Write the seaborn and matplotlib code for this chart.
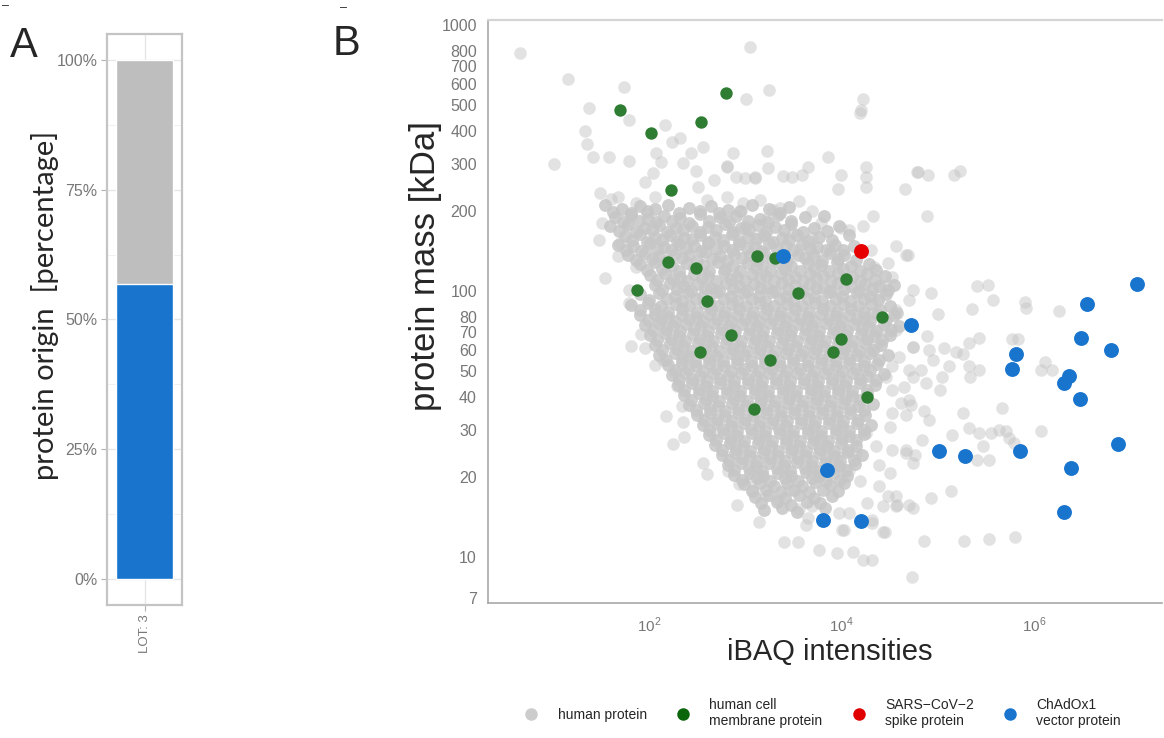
import numpy as np
import pandas as pd
import matplotlib
matplotlib.use("Agg")
import matplotlib.pyplot as plt
from matplotlib.lines import Line2D
from matplotlib.ticker import FixedLocator, LogLocator, NullFormatter
import seaborn as sns

# ---- panel A: protein origin share of LOT 3 ----
lots = ["LOT: 3"]
total_share = [1.0]
vector_share = [0.568]          # ChAdOx1 vector part, rest is human
pct_ticks = [0, 0.25, 0.5, 0.75, 1.0]
pct_labels = ["0%", "25%", "50%", "75%", "100%"]

# ---- panel B: (log10 iBAQ, mass kDa) ----
green_points = [
    (1.70, 479), (2.02, 393), (2.54, 431), (2.80, 555), (2.23, 240),
    (2.20, 128), (2.49, 122), (1.88, 101), (2.60, 92), (3.12, 135),
    (3.31, 133), (3.55, 98), (4.05, 111), (4.42, 80), (2.85, 68),
    (2.53, 59), (3.26, 55), (4.00, 66), (3.91, 59), (3.09, 36), (4.27, 40),
]
red_points = [(4.20, 141)]
blue_points = [
    (3.39, 135), (7.07, 106), (6.55, 89), (4.72, 74.5), (6.49, 66.4),
    (6.80, 60), (5.81, 57.8), (5.77, 50.9), (6.36, 47.9), (6.31, 45.2),
    (6.48, 39.3), (6.87, 26.6), (5.01, 25.0), (5.28, 24.0), (5.86, 25.1),
    (6.38, 21.6), (3.85, 21.2), (6.31, 14.7), (3.81, 13.7), (4.20, 13.6),
]

# scattered human proteins around the cloud
gray_outer = [
    (0.66, 787), (3.05, 828), (1.16, 627), (1.74, 586), (3.25, 570), (3.01, 528),
    (1.38, 489), (1.79, 440), (1.34, 401), (2.17, 420), (1.36, 357), (2.24, 364),
    (2.32, 375), (2.56, 347), (3.23, 337), (1.42, 318), (1.59, 318), (1.02, 300),
    (1.79, 308), (2.07, 329), (2.44, 329), (2.87, 329), (2.13, 306), (2.36, 302),
    (2.81, 295), (3.24, 289), (2.49, 283), (2.04, 277), (1.96, 257), (2.68, 261),
    (2.91, 269), (3.10, 265), (1.49, 234), (1.68, 226), (1.61, 221), (1.87, 215),
    (2.06, 226), (2.60, 220), (2.81, 226), (2.98, 214), (3.15, 220), (3.29, 202),
    (1.51, 180), (1.77, 177), (1.48, 156), (1.98, 196), (2.51, 247), (3.01, 175),
    (1.68, 135), (1.87, 123), (1.55, 112), (1.79, 101), (1.79, 90), (1.70, 151),
    (4.22, 527), (4.20, 479), (4.19, 467), (3.86, 320), (4.26, 292), (4.26, 269),
    (4.26, 245), (4.00, 273), (3.96, 241), (3.65, 293), (3.59, 273), (3.49, 269),
    (3.39, 271), (4.66, 242), (4.79, 281), (4.33, 192), (4.22, 176), (4.57, 147),
    (4.69, 137), (4.48, 127), (4.74, 101), (4.31, 143), (3.56, 217), (3.70, 199),
    (3.79, 180), (4.00, 172), (3.69, 158), (3.88, 143), (3.36, 205), (3.22, 185),
    (3.00, 265), (2.81, 293), (3.10, 269), (2.96, 199), (3.00, 172), (3.15, 160),
    (3.50, 165), (3.56, 143), (3.70, 139), (4.08, 169), (4.34, 123), (4.53, 113),
    (4.45, 104), (4.70, 92.5), (4.57, 85), (4.39, 95),
    (4.80, 279), (4.90, 273), (5.17, 273), (5.23, 283), (4.89, 191),
    (4.67, 136), (5.41, 104), (5.52, 105), (5.57, 92.5), (5.36, 85.5), (4.93, 98),
    (5.00, 81.7), (4.58, 82.8), (5.91, 91), (5.92, 86), (6.26, 84), (4.89, 67.8),
    (5.43, 66.4), (5.33, 63.5), (5.77, 66), (5.83, 66), (4.74, 61.7), (4.91, 60),
    (5.07, 61), (5.19, 59), (5.26, 58), (4.95, 55), (5.12, 52), (5.33, 52),
    (5.34, 47.6), (5.43, 50.5), (6.12, 54.2), (6.07, 50.5), (6.19, 50.5), (5.02, 42.5),
    (5.05, 47.6), (4.74, 47.6), (4.88, 45), (4.83, 50.5), (4.65, 43.6), (4.62, 37.8),
    (4.72, 37.3), (4.86, 35.2), (4.91, 32.7), (5.26, 34.7), (5.67, 36.4), (5.33, 30.5),
    (5.43, 29.2), (5.15, 28.8), (4.84, 27.6), (4.67, 25.3), (4.76, 24.2), (5.55, 29.2),
    (5.64, 30), (5.71, 29.6), (5.74, 27.9), (5.79, 26.7), (5.47, 26), (5.53, 23.2),
    (5.41, 23.2), (6.07, 29.6), (5.14, 17.6), (4.93, 16.6), (4.86, 11.5), (5.27, 11.5),
    (5.53, 11.7), (5.80, 11.9), (4.73, 8.4), (4.58, 15.7), (4.74, 15.2), (4.45, 12.4),
    (4.32, 9.7), (4.22, 9.7), (4.12, 10.4), (3.95, 10.3), (3.77, 10.6), (3.55, 11.4),
    (3.40, 11.4), (3.63, 13.2), (4.03, 12.6), (4.32, 13.4), (4.43, 15.5), (4.57, 16.9),
    (1.82, 62.3), (1.96, 61), (1.92, 69), (2.06, 52.7), (2.18, 33.9), (2.36, 32),
    (2.37, 28.3), (2.25, 26.6), (2.56, 22.5), (2.60, 20.5), (2.92, 15.6), (3.14, 13.5),
    (2.35, 37), (2.29, 44), (2.27, 49), (2.15, 55), (2.67, 29), (2.84, 26.7),
    (2.82, 21), (2.94, 18.7), (3.06, 19.5), (3.08, 17.6), (3.22, 16.9), (3.34, 16.4),
    (3.46, 17.9), (3.56, 15.1), (3.65, 14), (3.70, 15.5), (3.98, 14.6), (4.08, 14.6),
    (4.01, 12.6), (4.32, 13.8), (4.43, 12.4), (4.27, 15.9), (4.48, 16.9), (4.57, 15.5),
    (4.70, 15.7), (4.39, 18.4), (4.19, 19.2), (4.08, 21.2), (4.15, 24.5), (3.95, 23.8),
    (3.84, 26), (3.77, 27.5), (4.39, 22.2), (4.50, 20.7), (4.53, 25.2), (4.67, 24.5),
    (4.74, 22.5), (4.36, 26), (4.26, 29.2), (4.50, 30.9), (4.53, 34.7), (4.67, 34.2),
    (4.70, 38.9), (4.53, 42.5), (4.46, 47.6), (4.53, 52), (4.70, 50.5), (4.60, 56.6),
    (4.74, 61.6), (4.36, 61.6), (4.39, 71.3), (4.57, 71.3), (4.32, 82.4), (4.58, 82.4),
]

# the dense middle of the cloud
gray_core = [
    (1.54, 210), (1.72, 204), (1.91, 209), (2.06, 203), (2.20, 211), (2.42, 205), (2.65, 208),
    (2.82, 202), (3.07, 210), (3.25, 204), (3.46, 207),
    (1.65, 190), (1.82, 193), (1.99, 187), (2.16, 192), (2.32, 188), (2.53, 194), (2.74, 189),
    (2.91, 191), (3.15, 187), (3.34, 193), (3.62, 189), (3.82, 192),
    (1.60, 175), (1.78, 178), (1.96, 173), (2.11, 177), (2.28, 172), (2.45, 176), (2.61, 174),
    (2.79, 179), (2.96, 173), (3.13, 177), (3.31, 174), (3.48, 178), (3.72, 172), (3.98, 176),
    (1.75, 161), (1.91, 164), (2.06, 159), (2.22, 162), (2.37, 158), (2.53, 163), (2.69, 160),
    (2.86, 164), (3.03, 159), (3.20, 162), (3.38, 158), (3.54, 163), (3.77, 160), (4.08, 162),
    (1.68, 149), (1.84, 147), (2.01, 151), (2.16, 146), (2.31, 150), (2.47, 148), (2.62, 152),
    (2.78, 147), (2.94, 150), (3.10, 146), (3.25, 151), (3.42, 148), (3.59, 150), (3.75, 146),
    (3.93, 149), (4.13, 147),
    (1.78, 137), (1.96, 139), (2.11, 135), (2.27, 138), (2.42, 136), (2.58, 140), (2.74, 135),
    (2.89, 138), (3.05, 136), (3.20, 139), (3.55, 137), (3.72, 135), (3.88, 139), (4.03, 136),
    (1.91, 126), (2.06, 128), (2.24, 124), (2.40, 127), (2.56, 125), (2.72, 129), (2.87, 124),
    (3.03, 127), (3.18, 125), (3.34, 128), (3.48, 124), (3.65, 127), (3.79, 125), (3.95, 128),
    (4.10, 124), (4.29, 126),
    (2.01, 115), (2.17, 117), (2.32, 113), (2.47, 116), (2.62, 114), (2.78, 118), (2.92, 113),
    (3.07, 116), (3.22, 114), (3.37, 117), (3.52, 113), (3.67, 116), (3.81, 114), (3.96, 117),
    (4.11, 113), (4.27, 116), (4.45, 114),
    (2.06, 105), (2.22, 107), (2.36, 104), (2.51, 106), (2.65, 103), (2.80, 107), (2.94, 104),
    (3.09, 106), (3.23, 103), (3.38, 107), (3.52, 104), (3.67, 106), (3.81, 103), (3.96, 107),
    (4.10, 104), (4.25, 106), (4.39, 104), (4.55, 105),
    (1.91, 97), (2.11, 98), (2.27, 95.5), (2.41, 98), (2.56, 96), (2.70, 99), (2.85, 95.5),
    (2.99, 98), (3.14, 96), (3.28, 99), (3.43, 95.5), (3.58, 98), (3.72, 96), (3.87, 99),
    (4.01, 95.5), (4.16, 98), (4.30, 96), (4.46, 97),
    (1.82, 88.5), (1.99, 90), (2.13, 87.5), (2.28, 89.5), (2.42, 87.5), (2.57, 90), (2.72, 88),
    (2.86, 89.5), (3.01, 87.5), (3.15, 90), (3.30, 88), (3.44, 89.5), (3.59, 87.5), (3.73, 90),
    (3.88, 88), (4.02, 89.5), (4.17, 87.5), (4.31, 89.5), (4.50, 88),
    (1.91, 81), (2.06, 82), (2.20, 80), (2.34, 81.5), (2.49, 80), (2.63, 82), (2.78, 80.5),
    (2.92, 81.5), (3.07, 80), (3.21, 82), (3.36, 80.5), (3.50, 81.5), (3.65, 80), (3.79, 82),
    (3.94, 80.5), (4.08, 81.5), (4.23, 80), (4.37, 82), (4.55, 81),
    (1.96, 74.5), (2.11, 75.5), (2.25, 73.5), (2.39, 75), (2.54, 73.5), (2.68, 75.5), (2.83, 74),
    (2.97, 75), (3.12, 73.5), (3.26, 75.5), (3.41, 74), (3.55, 75), (3.70, 73.5), (3.84, 75.5),
    (3.99, 74), (4.13, 75), (4.28, 73.5), (4.44, 75), (4.60, 74),
    (2.01, 68.3), (2.17, 69.5), (2.31, 67.5), (2.46, 69), (2.60, 67.5), (2.75, 69.5), (2.89, 68),
    (3.04, 69), (3.18, 67.5), (3.33, 69.5), (3.47, 68), (3.62, 69), (3.76, 67.5), (3.91, 69.5),
    (4.05, 68), (4.20, 69), (4.34, 67.5), (4.50, 68.5),
    (2.06, 62.7), (2.22, 63.5), (2.36, 62), (2.51, 63.5), (2.65, 62), (2.80, 63.8), (2.94, 62.3),
    (3.09, 63.5), (3.23, 62), (3.38, 63.8), (3.52, 62.3), (3.67, 63.5), (3.81, 62), (3.96, 63.8),
    (4.10, 62.3), (4.25, 63.5), (4.41, 62.5),
    (2.11, 57.5), (2.27, 58.3), (2.41, 57), (2.56, 58.3), (2.70, 57), (2.85, 58.5), (2.99, 57.2),
    (3.14, 58.3), (3.28, 57), (3.43, 58.5), (3.58, 57.2), (3.72, 58.3), (3.87, 57), (4.01, 58.5),
    (4.16, 57.2), (4.30, 58.3), (4.48, 57.5),
    (2.20, 52.7), (2.34, 53.5), (2.49, 52.2), (2.63, 53.5), (2.78, 52.2), (2.92, 53.6), (3.07, 52.4),
    (3.21, 53.5), (3.36, 52.2), (3.50, 53.6), (3.65, 52.4), (3.79, 53.5), (3.94, 52.2), (4.08, 53.6),
    (4.23, 52.4), (4.37, 53.2),
    (2.24, 48.3), (2.38, 49), (2.53, 47.8), (2.67, 49), (2.82, 47.8), (2.96, 49.2), (3.11, 48),
    (3.25, 49), (3.40, 47.8), (3.54, 49.2), (3.69, 48), (3.83, 49), (3.98, 47.8), (4.12, 49.2),
    (4.27, 48), (4.44, 48.5),
    (2.30, 44.3), (2.45, 45), (2.59, 43.8), (2.74, 45), (2.88, 43.8), (3.03, 45.1), (3.17, 44),
    (3.32, 45), (3.46, 43.8), (3.61, 45.1), (3.75, 44), (3.90, 45), (4.04, 43.8), (4.19, 45.1),
    (4.35, 44.3),
    (2.37, 40.6), (2.52, 41.2), (2.66, 40.2), (2.81, 41.2), (2.95, 40.2), (3.10, 41.3), (3.24, 40.4),
    (3.39, 41.2), (3.53, 40.2), (3.68, 41.3), (3.82, 40.4), (3.97, 41.2), (4.11, 40.2), (4.27, 40.8),
    (2.42, 37.2), (2.57, 37.8), (2.72, 36.8), (2.86, 37.8), (3.01, 36.8), (3.15, 37.9), (3.30, 37),
    (3.44, 37.8), (3.59, 36.8), (3.73, 37.9), (3.88, 37), (4.02, 37.8), (4.17, 36.8), (4.33, 37.4),
    (2.50, 34.1), (2.64, 34.6), (2.79, 33.7), (2.93, 34.6), (3.08, 33.7), (3.22, 34.7), (3.37, 33.9),
    (3.51, 34.6), (3.66, 33.7), (3.80, 34.7), (3.95, 33.9), (4.09, 34.6), (4.25, 34),
    (2.56, 31.3), (2.70, 31.8), (2.85, 31), (2.99, 31.8), (3.14, 31), (3.28, 31.9), (3.43, 31.1),
    (3.58, 31.8), (3.72, 31), (3.87, 31.9), (4.01, 31.1), (4.16, 31.8), (4.31, 31.2),
    (2.63, 28.7), (2.78, 29.2), (2.92, 28.4), (3.07, 29.2), (3.21, 28.4), (3.36, 29.3), (3.50, 28.5),
    (3.65, 29.2), (3.79, 28.4), (3.94, 29.3), (4.08, 28.5), (4.23, 29),
    (2.69, 26.3), (2.84, 26.8), (2.98, 26), (3.13, 26.8), (3.27, 26), (3.42, 26.9), (3.56, 26.1),
    (3.71, 26.8), (3.85, 26), (4.00, 26.9), (4.15, 26.2),
    (2.76, 24.2), (2.90, 24.6), (3.05, 23.9), (3.19, 24.6), (3.34, 23.9), (3.48, 24.7), (3.63, 24),
    (3.77, 24.6), (3.92, 23.9), (4.06, 24.7), (4.21, 24.1),
    (2.82, 22.2), (2.96, 22.6), (3.11, 21.9), (3.25, 22.6), (3.40, 21.9), (3.54, 22.7), (3.69, 22),
    (3.83, 22.6), (3.98, 21.9), (4.14, 22.3),
    (2.89, 20.3), (3.05, 20.7), (3.19, 20.1), (3.34, 20.7), (3.48, 20.1), (3.63, 20.8), (3.77, 20.2),
    (3.92, 20.7), (4.06, 20.2),
    (2.99, 18.7), (3.15, 19), (3.30, 18.5), (3.44, 19), (3.59, 18.5), (3.73, 19.1), (3.88, 18.6),
    (4.03, 18.9),
    (3.10, 16.8), (3.25, 17.1), (3.41, 16.6), (3.56, 17.1), (3.72, 16.6), (3.90, 16.9),
    (3.20, 15), (3.38, 15.3), (3.54, 14.8), (3.83, 15.2),
]

# more proteins packed between the rows above (the cloud is solid there)
gray_core_fill = [
    (1.63, 198), (1.81, 196), (1.98, 200), (2.31, 197), (2.53, 199), (2.73, 196), (2.95, 200), (3.36, 197),
    (1.73, 182), (1.90, 184), (2.07, 181), (2.24, 183), (2.42, 180), (2.63, 184), (2.83, 181), (3.03, 183),
    (3.24, 181), (3.48, 184),
    (1.69, 168), (1.87, 166), (2.03, 169), (2.19, 167), (2.36, 170), (2.53, 166), (2.70, 169), (2.87, 167),
    (3.04, 170), (3.22, 166), (3.40, 169), (3.60, 167), (3.85, 168),
    (1.83, 155), (1.98, 153), (2.14, 156), (2.29, 154), (2.45, 157), (2.61, 153), (2.77, 156), (2.94, 154),
    (3.11, 157), (3.29, 153), (3.46, 156), (3.65, 154), (3.90, 155),
    (1.76, 143), (1.92, 141), (2.08, 144), (2.23, 142), (2.39, 145), (2.54, 141), (2.70, 144), (2.86, 142),
    (3.02, 145), (3.17, 141), (3.33, 144), (3.50, 142), (3.67, 145), (3.84, 142), (4.02, 143),
    (1.87, 131), (2.03, 132), (2.19, 130), (2.34, 133), (2.50, 130), (2.66, 132), (2.81, 130), (2.97, 133),
    (3.12, 130), (3.28, 132), (3.44, 130), (3.62, 133), (3.80, 130), (3.96, 132), (4.15, 131),
    (1.98, 120), (2.14, 121), (2.31, 119), (2.47, 122), (2.63, 119), (2.79, 121), (2.95, 119), (3.11, 122),
    (3.26, 119), (3.41, 121), (3.57, 119), (3.72, 122), (3.87, 119), (4.02, 121), (4.19, 119), (4.36, 120),
    (2.09, 110), (2.25, 111), (2.40, 109), (2.55, 111.5), (2.70, 109), (2.85, 111), (3.00, 109), (3.15, 111.5),
    (3.30, 109), (3.45, 111), (3.60, 109), (3.74, 111.5), (3.89, 109), (4.04, 111), (4.19, 109), (4.35, 110),
    (2.14, 101), (2.29, 102), (2.44, 100), (2.58, 102.5), (2.73, 100), (2.87, 102), (3.02, 100), (3.16, 102.5),
    (3.31, 100), (3.45, 102), (3.60, 100), (3.74, 102.5), (3.89, 100), (4.03, 102), (4.18, 100), (4.32, 102),
    (4.48, 101),
    (2.00, 92.5), (2.19, 93.5), (2.34, 91.5), (2.49, 93.5), (2.63, 91.5), (2.78, 93.5), (2.92, 91.5),
    (3.07, 93.5), (3.21, 91.5), (3.36, 93.5), (3.50, 91.5), (3.65, 93.5), (3.80, 91.5), (3.94, 93.5),
    (4.09, 91.5), (4.23, 93.5), (4.38, 92.5),
    (1.91, 84.5), (2.06, 85.5), (2.20, 83.5), (2.35, 85.5), (2.50, 83.5), (2.65, 85.5), (2.79, 83.5),
    (2.94, 85.5), (3.08, 83.5), (3.23, 85.5), (3.37, 83.5), (3.52, 85.5), (3.66, 83.5), (3.81, 85.5),
    (3.95, 83.5), (4.10, 85.5), (4.24, 83.5), (4.40, 84.5),
    (1.99, 77.5), (2.13, 78.3), (2.27, 76.8), (2.42, 78.3), (2.56, 76.8), (2.71, 78.3), (2.85, 76.8),
    (3.00, 78.3), (3.14, 76.8), (3.29, 78.3), (3.43, 76.8), (3.58, 78.3), (3.72, 76.8), (3.87, 78.3),
    (4.01, 76.8), (4.16, 78.3), (4.30, 76.8), (4.46, 77.5),
    (2.04, 71.3), (2.18, 72), (2.32, 70.6), (2.47, 72), (2.61, 70.6), (2.76, 72), (2.90, 70.6),
    (3.05, 72), (3.19, 70.6), (3.34, 72), (3.48, 70.6), (3.63, 72), (3.77, 70.6), (3.92, 72),
    (4.06, 70.6), (4.21, 72), (4.36, 70.6), (4.52, 71.3),
    (2.09, 65.4), (2.24, 66), (2.38, 64.8), (2.53, 66), (2.67, 64.8), (2.82, 66), (2.96, 64.8),
    (3.11, 66), (3.25, 64.8), (3.40, 66), (3.54, 64.8), (3.69, 66), (3.83, 64.8), (3.98, 66),
    (4.12, 64.8), (4.27, 66), (4.42, 65.4),
    (2.14, 60), (2.29, 60.6), (2.44, 59.5), (2.58, 60.6), (2.73, 59.5), (2.87, 60.6), (3.02, 59.5),
    (3.16, 60.6), (3.31, 59.5), (3.45, 60.6), (3.60, 59.5), (3.74, 60.6), (3.89, 59.5), (4.03, 60.6),
    (4.18, 59.5), (4.33, 60),
    (2.18, 55), (2.34, 55.5), (2.48, 54.5), (2.63, 55.5), (2.77, 54.5), (2.92, 55.5), (3.06, 54.5),
    (3.21, 55.5), (3.35, 54.5), (3.50, 55.5), (3.65, 54.5), (3.79, 55.5), (3.94, 54.5), (4.08, 55.5),
    (4.23, 54.5), (4.39, 55),
    (2.27, 50.5), (2.41, 51), (2.56, 50), (2.70, 51), (2.85, 50), (2.99, 51), (3.14, 50),
    (3.28, 51), (3.43, 50), (3.57, 51), (3.72, 50), (3.86, 51), (4.01, 50), (4.15, 51), (4.30, 50.5),
    (2.31, 46.3), (2.45, 46.8), (2.60, 45.9), (2.74, 46.8), (2.89, 45.9), (3.03, 46.8), (3.18, 45.9),
    (3.32, 46.8), (3.47, 45.9), (3.61, 46.8), (3.76, 45.9), (3.90, 46.8), (4.05, 45.9), (4.19, 46.8),
    (4.36, 46.3),
    (2.37, 42.5), (2.52, 42.9), (2.66, 42.1), (2.81, 42.9), (2.95, 42.1), (3.10, 42.9), (3.24, 42.1),
    (3.39, 42.9), (3.53, 42.1), (3.68, 42.9), (3.82, 42.1), (3.97, 42.9), (4.11, 42.1), (4.27, 42.5),
    (2.44, 38.9), (2.59, 39.3), (2.73, 38.5), (2.88, 39.3), (3.02, 38.5), (3.17, 39.3), (3.31, 38.5),
    (3.46, 39.3), (3.60, 38.5), (3.75, 39.3), (3.89, 38.5), (4.04, 39.3), (4.19, 38.9),
    (2.49, 35.7), (2.64, 36), (2.79, 35.3), (2.93, 36), (3.08, 35.3), (3.22, 36), (3.37, 35.3),
    (3.51, 36), (3.66, 35.3), (3.80, 36), (3.95, 35.3), (4.09, 36), (4.24, 35.7),
    (2.57, 32.7), (2.71, 33), (2.86, 32.4), (3.00, 33), (3.15, 32.4), (3.29, 33), (3.44, 32.4),
    (3.58, 33), (3.73, 32.4), (3.87, 33), (4.02, 32.4), (4.17, 32.7),
    (2.63, 30), (2.77, 30.3), (2.92, 29.7), (3.06, 30.3), (3.21, 29.7), (3.35, 30.3), (3.50, 29.7),
    (3.65, 30.3), (3.79, 29.7), (3.94, 30.3), (4.08, 29.7), (4.23, 30),
    (2.70, 27.5), (2.85, 27.8), (2.99, 27.2), (3.14, 27.8), (3.28, 27.2), (3.43, 27.8), (3.57, 27.2),
    (3.72, 27.8), (3.86, 27.2), (4.01, 27.8), (4.15, 27.5),
    (2.76, 25.2), (2.91, 25.5), (3.05, 25), (3.20, 25.5), (3.34, 25), (3.49, 25.5), (3.63, 25),
    (3.78, 25.5), (3.92, 25), (4.07, 25.2),
    (2.83, 23.2), (2.97, 23.5), (3.12, 23), (3.26, 23.5), (3.41, 23), (3.55, 23.5), (3.70, 23),
    (3.84, 23.5), (3.99, 23), (4.13, 23.2),
    (2.89, 21.2), (3.04, 21.5), (3.18, 21), (3.33, 21.5), (3.47, 21), (3.62, 21.5), (3.76, 21),
    (3.91, 21.5), (4.05, 21.2),
    (2.97, 19.5), (3.12, 19.7), (3.26, 19.3), (3.41, 19.7), (3.55, 19.3), (3.70, 19.7), (3.84, 19.3),
    (3.99, 19.5),
    (3.07, 17.7), (3.22, 17.9), (3.37, 17.5), (3.51, 17.9), (3.66, 17.5), (3.81, 17.9), (3.96, 17.7),
    (3.17, 15.9), (3.33, 16.1), (3.48, 15.7), (3.64, 16.1), (3.78, 15.9),
]

mass_ticks = [7, 10, 20, 30, 40, 50, 60, 70, 80, 100, 200, 300, 400, 500, 600, 700, 800, 1000]
mass_minor = [8, 9, 90, 900]
legend_labels = ["human protein", "human cell\nmembrane protein",
                 "SARS\u2212CoV\u22122\nspike protein", "ChAdOx1\nvector protein"]

c_gray_bar = "#bebebe"
c_blue = "#1874cd"
c_green = "#2e7d32"
c_red = "#e60000"
c_gray_pt = "#c6c6c6"
txt_gray = "#777777"


def to_frame(points):
    df = pd.DataFrame(points, columns=["log_ibaq", "mass"])
    df["ibaq"] = 10 ** df["log_ibaq"]
    return df


sns.set_style("white")
plt.rcParams["font.family"] = ["Liberation Sans", "DejaVu Sans"]
plt.rcParams["mathtext.fontset"] = "custom"
plt.rcParams["mathtext.rm"] = "Liberation Sans"

W, H = 1164, 738
fig = plt.figure(figsize=(W / 100, H / 100), dpi=100)

# ---------------- panel A ----------------
axA = fig.add_axes([107 / W, 1 - 605 / H, 75 / W, 571 / H])
bars = pd.DataFrame({"lot": lots, "total": total_share, "vector": vector_share})
sns.barplot(data=bars, x="lot", y="total", color=c_gray_bar, width=0.9,
            saturation=1, ax=axA, zorder=2)
sns.barplot(data=bars, x="lot", y="vector", color=c_blue, width=0.9,
            saturation=1, ax=axA, zorder=3)
axA.set_xlim(-0.6, 0.6)
axA.set_ylim(-0.05, 1.05)
axA.set_yticks(pct_ticks, pct_labels)
axA.yaxis.set_minor_locator(FixedLocator([0.125, 0.375, 0.625, 0.875]))
axA.grid(True, which="major", color="#e6e6e6", lw=1.0)
axA.grid(True, which="minor", axis="y", color="#f0f0f0", lw=0.7)
axA.set_axisbelow(True)
axA.set_xlabel("")
axA.set_ylabel("")
axA.tick_params(axis="y", which="major", left=True, length=4, color="#b3b3b3",
                labelsize=11.5, labelcolor=txt_gray, pad=3)
axA.tick_params(axis="y", which="minor", left=False)
axA.tick_params(axis="x", bottom=True, length=4, color="#b3b3b3",
                labelsize=9.5, labelcolor=txt_gray, labelrotation=90, pad=3)
for s in axA.spines.values():
    s.set_color("#c4c4c4")
    s.set_linewidth(1.6)

fig.text(45 / W, 1 - 305 / H, "protein origin  [percentage]", rotation=90,
         ha="center", va="center", fontsize=21, family=["Lato", "DejaVu Sans"])

# ---------------- panel B ----------------
axB = fig.add_axes([488 / W, 1 - 603 / H, 674 / W, 583 / H])
sns.scatterplot(data=to_frame(gray_outer), x="ibaq", y="mass", color=c_gray_pt,
                alpha=0.5, s=82, linewidth=0, legend=False, ax=axB, zorder=2)
sns.scatterplot(data=to_frame(gray_core + gray_core_fill), x="ibaq", y="mass",
                color=c_gray_pt, alpha=0.85, s=86, linewidth=0, legend=False,
                ax=axB, zorder=2)
sns.scatterplot(data=to_frame(green_points), x="ibaq", y="mass", color=c_green,
                s=80, linewidth=0, legend=False, ax=axB, zorder=3)
sns.scatterplot(data=to_frame(red_points), x="ibaq", y="mass", color=c_red,
                s=115, linewidth=0, legend=False, ax=axB, zorder=4)
sns.scatterplot(data=to_frame(blue_points), x="ibaq", y="mass", color=c_blue,
                s=115, linewidth=0, legend=False, ax=axB, zorder=5)

axB.set_xscale("log")
axB.set_yscale("log")
axB.set_xlim(10 ** 0.33, 10 ** 7.33)
axB.set_ylim(6.7, 1045)
axB.set_xlabel("")
axB.set_ylabel("")

xt = [10.0 ** k for k in range(1, 8)]
xl = ["", "$10^{2}$", "", "$10^{4}$", "", "$10^{6}$", ""]
axB.set_xticks(xt, xl)
axB.xaxis.set_minor_locator(LogLocator(base=10, subs=np.arange(2, 10), numticks=30))
axB.xaxis.set_minor_formatter(NullFormatter())
axB.set_yticks(mass_ticks, [str(v) for v in mass_ticks])
axB.yaxis.set_minor_locator(FixedLocator(mass_minor))
axB.yaxis.set_minor_formatter(NullFormatter())

axB.tick_params(axis="x", which="major", direction="in", length=8, width=1,
                color="#9a9a9a", labelsize=11, labelcolor=txt_gray, pad=9)
axB.tick_params(axis="x", which="minor", direction="in", length=4, width=0.8,
                color="#9a9a9a")
axB.tick_params(axis="y", which="major", direction="inout", length=12, width=1,
                color="#9a9a9a", labelsize=11.5, labelcolor=txt_gray, pad=2)
axB.tick_params(axis="y", which="minor", direction="in", length=4, width=0.8,
                color="#9a9a9a")
axB.spines["left"].set_color("#a8a8a8")
axB.spines["bottom"].set_color("#a8a8a8")
axB.spines["left"].set_linewidth(1.2)
axB.spines["bottom"].set_linewidth(1.2)
axB.spines["top"].set_color("#d4d4d4")
axB.spines["top"].set_linewidth(1.6)
axB.spines["right"].set_visible(False)

fig.text(425 / W, 1 - 266 / H, "protein mass [kDa]", rotation=90,
         ha="center", va="center", fontsize=25)
fig.text(830 / W, 1 - 652 / H, "iBAQ intensities", ha="center", va="center",
         fontsize=21)

# panel letters and the two little crop marks at the top
fig.text(10 / W, 1 - 46 / H, "A", fontsize=30, va="center", ha="left")
fig.text(333 / W, 1 - 44 / H, "B", fontsize=30, va="center", ha="left")
fig.text(2 / W, 1 - 6 / H, "\u2012", fontsize=9, va="center", ha="left")
fig.text(340 / W, 1 - 8 / H, "\u2012", fontsize=9, va="center", ha="left")

handles = [
    Line2D([], [], ls="", marker="o", ms=9, mew=0, color="#cccccc"),
    Line2D([], [], ls="", marker="o", ms=9, mew=0, color="#0b650b"),
    Line2D([], [], ls="", marker="o", ms=9, mew=0, color="#e00000"),
    Line2D([], [], ls="", marker="o", ms=9, mew=0, color=c_blue),
]
fig.legend(handles, legend_labels, loc="center", ncol=4, frameon=False,
           bbox_to_anchor=(822 / W, 1 - 713 / H), fontsize=10,
           handletextpad=1.3, columnspacing=2.0, handlelength=1.2)

fig.savefig("out.png", dpi=100)
